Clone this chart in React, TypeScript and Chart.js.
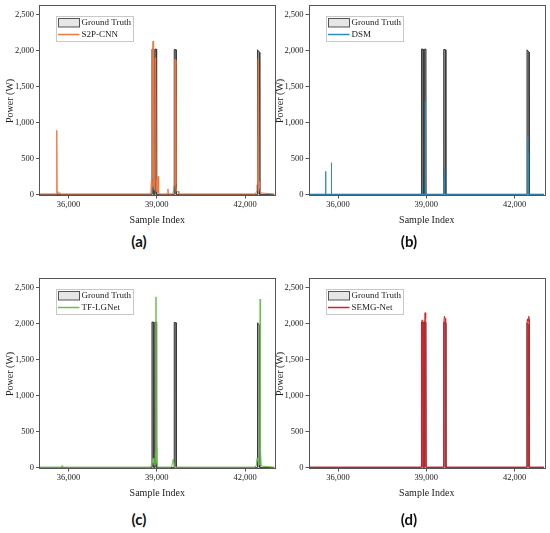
import React, { useEffect, useRef } from 'react';
import Chart from 'chart.js/auto';

const sampleTicks = [36000, 39000, 42000];
const powerTicks = [0, 500, 1000, 1500, 2000, 2500];
const sampleRange = [35030, 43000];
const powerRange = [-15, 2615];

// ground truth, shared by all four panels
const gtIndex = [35030, 38830, 38836, 38894, 38900, 38936, 38942, 38988, 38994, 39586, 39592, 39658, 39664, 42416, 42422, 42494, 42500, 43000];
const gtPower = [0, 0, 2020, 2020, 0, 0, 2020, 2020, 0, 0, 2015, 2010, 0, 0, 2010, 1975, 0, 0];

const s2pIndex = [35030, 35585, 35596, 35604, 35614, 35640, 35690, 35705, 35720, 38770, 38800, 38815, 38830, 38845, 38858, 38872, 38884, 38898, 38910, 38925, 38945, 38962, 38980, 39000, 39030, 39044, 39056, 39070, 39100, 39360, 39378, 39395, 39540, 39570, 39590, 39612, 39630, 39648, 39668, 39700, 39730, 39750, 42360, 42385, 42405, 42425, 42442, 42458, 42475, 42495, 42520, 42545, 43000];
const s2pPower = [6, 6, 60, 890, 40, 8, 8, 25, 6, 6, 50, 180, 100, 240, 1950, 2130, 300, 120, 60, 90, 1890, 1900, 200, 40, 30, 250, 40, 15, 6, 6, 75, 6, 6, 50, 130, 1880, 1870, 140, 60, 30, 45, 6, 6, 40, 120, 160, 1890, 1900, 180, 90, 40, 20, 6];

const dsmIndex = [35030, 35570, 35578, 35586, 35766, 35774, 35782, 38855, 38865, 38875, 38958, 38966, 38974, 39598, 39606, 39614, 39622, 39630, 42432, 42440, 42448, 42456, 42464, 42472, 42480, 43000];
const dsmPower = [2, 2, 320, 2, 2, 440, 2, 2, 120, 2, 2, 1300, 2, 2, 200, 30, 370, 2, 2, 450, 180, 800, 250, 580, 2, 2];

const tfIndex = [35030, 35745, 35762, 35778, 35800, 38790, 38825, 38845, 38862, 38878, 38895, 38915, 38935, 38958, 38972, 38986, 39000, 39030, 39470, 39510, 39535, 39552, 39570, 39600, 39640, 42340, 42372, 42392, 42410, 42430, 42455, 42480, 42500, 42512, 42526, 42550, 43000];
const tfPower = [3, 3, 15, 25, 3, 3, 40, 110, 70, 130, 60, 30, 50, 220, 2370, 280, 60, 4, 3, 20, 70, 110, 80, 20, 3, 3, 30, 90, 130, 100, 60, 40, 280, 2340, 250, 20, 3];

const semgIndex = [35030, 38834, 38840, 38858, 38876, 38890, 38897, 38940, 38946, 38958, 38972, 38985, 38992, 39588, 39594, 39615, 39638, 39656, 39662, 42416, 42422, 42438, 42452, 42468, 42482, 42494, 42500, 43000];
const semgPower = [4, 4, 2000, 2050, 2040, 2010, 4, 4, 2060, 2150, 2100, 2080, 4, 4, 2000, 2100, 2070, 2030, 4, 4, 2010, 2060, 2030, 2080, 2100, 2060, 4, 4];

const SERIF = '"Liberation Serif", "Times New Roman", serif';
const INK = '#222';
const AXIS = '#555';
const CANVAS_H = 232;

const toPoints = (xs: number[], ys: number[]) => xs.map((x, i) => ({ x, y: ys[i] }));

const framePlugin = {
  id: 'frame',
  afterDatasetsDraw(chart: any) {
    const { ctx, chartArea: a } = chart;
    ctx.save();
    ctx.strokeStyle = AXIS;
    ctx.lineWidth = 1;
    ctx.strokeRect(Math.round(a.left) - 0.5, Math.round(a.top) - 0.5, Math.round(a.right - a.left) + 1, Math.round(a.bottom - a.top) + 1);
    ctx.restore();
  },
};

// boxed legend in the top-left corner of the plot
const boxLegendPlugin = {
  id: 'boxLegend',
  afterDraw(chart: any) {
    const { ctx, chartArea: a } = chart;
    const [pred, gt] = chart.data.datasets;
    const x = Math.round(a.left + 16);
    const y = Math.round(a.top + 10);
    ctx.save();
    ctx.fillStyle = '#fff';
    ctx.fillRect(x, y, 77, 25);
    ctx.strokeStyle = '#c8c8c8';
    ctx.lineWidth = 1;
    ctx.strokeRect(x + 0.5, y + 0.5, 77, 25);
    ctx.fillStyle = '#e6e6e6';
    ctx.fillRect(x + 2.5, y + 2.5, 21, 8.5);
    ctx.strokeStyle = AXIS;
    ctx.strokeRect(x + 2.5, y + 2.5, 21, 8.5);
    ctx.beginPath();
    ctx.moveTo(x + 2, y + 18.5);
    ctx.lineTo(x + 23.5, y + 18.5);
    ctx.strokeStyle = pred.borderColor;
    ctx.lineWidth = 1.5;
    ctx.stroke();
    ctx.font = `9px ${SERIF}`;
    ctx.fillStyle = INK;
    ctx.textBaseline = 'middle';
    ctx.fillText(gt.label, x + 25.5, y + 7);
    ctx.fillText(pred.label, x + 25.5, y + 18.5);
    ctx.restore();
  },
};

interface PanelProps {
  caption: string;
  label: string;
  color: string;
  index: number[];
  power: number[];
  left: number;
  top: number;
  width: number;
  areaLeft: number;
  areaTop: number;
  areaRight: number;
  areaBottom: number;
  titlePad: number;
  captionX: number;
  captionY: number;
}

const Panel: React.FC<PanelProps> = (p) => {
  const canvasRef = useRef<HTMLCanvasElement | null>(null);

  useEffect(() => {
    if (!canvasRef.current) return;
    const chart = new Chart(canvasRef.current, {
      type: 'line',
      data: {
        datasets: [
          {
            label: p.label,
            data: toPoints(p.index, p.power),
            borderColor: p.color,
            borderWidth: 1,
            pointRadius: 0,
            fill: false,
            order: 0,
          },
          {
            label: 'Ground Truth',
            data: toPoints(gtIndex, gtPower),
            borderColor: '#3a3a3a',
            backgroundColor: 'rgba(115,115,115,0.75)',
            borderWidth: 1,
            pointRadius: 0,
            fill: 'origin',
            order: 1,
          },
        ],
      },
      options: {
        animation: false,
        responsive: false,
        events: [],
        layout: {
          padding: { top: p.areaTop - p.top, right: p.left + p.width - p.areaRight, left: 0, bottom: 0 },
        },
        plugins: { legend: { display: false }, tooltip: { enabled: false } },
        elements: { line: { tension: 0 } },
        scales: {
          x: {
            type: 'linear',
            min: sampleRange[0],
            max: sampleRange[1],
            afterBuildTicks: (s: any) => {
              s.ticks = sampleTicks.map((v) => ({ value: v }));
            },
            afterFit: (s: any) => {
              s.height = p.top + CANVAS_H - p.areaBottom;
            },
            border: { display: false },
            grid: { drawOnChartArea: false, drawTicks: true, tickLength: 3, color: AXIS },
            ticks: {
              font: { family: SERIF, size: 8.5, lineHeight: 1 },
              color: INK,
              padding: 2.5,
              maxRotation: 0,
              autoSkip: false,
              callback: (v: any) => Number(v).toLocaleString('en-US'),
            },
            title: {
              display: true,
              text: 'Sample Index',
              font: { family: SERIF, size: 10, lineHeight: 1.2 },
              color: INK,
              padding: { top: 0, bottom: 6 },
            },
          },
          y: {
            type: 'linear',
            min: powerRange[0],
            max: powerRange[1],
            afterBuildTicks: (s: any) => {
              s.ticks = powerTicks.map((v) => ({ value: v }));
            },
            afterFit: (s: any) => {
              s.width = p.areaLeft - p.left;
            },
            border: { display: false },
            grid: { drawOnChartArea: false, drawTicks: true, tickLength: 4, color: AXIS },
            ticks: {
              font: { family: SERIF, size: 8.5, lineHeight: 1 },
              color: INK,
              padding: 2,
              autoSkip: false,
              callback: (v: any) => Number(v).toLocaleString('en-US'),
            },
            title: {
              display: true,
              text: 'Power (W)',
              font: { family: SERIF, size: 10, lineHeight: 1.2 },
              color: INK,
              padding: { top: p.titlePad, bottom: 0 },
            },
          },
        },
      },
      plugins: [framePlugin, boxLegendPlugin],
    } as any);
    return () => chart.destroy();
  }, []);

  return (
    <>
      <canvas
        ref={canvasRef}
        width={p.width}
        height={CANVAS_H}
        style={{ position: 'absolute', left: p.left, top: p.top, width: p.width, height: CANVAS_H }}
      />
      <div
        style={{
          position: 'absolute',
          left: p.captionX,
          top: p.captionY,
          transform: 'translate(-50%, -50%)',
          font: 'bold 15px Lato, "Liberation Sans", sans-serif',
          color: '#111',
          whiteSpace: 'nowrap',
        }}
      >
        {p.caption}
      </div>
    </>
  );
};

const leftCol = { left: 0, width: 277, areaLeft: 40, areaRight: 274.5, titlePad: 4, captionX: 139 };
const rightCol = { left: 272, width: 275, areaLeft: 309.5, areaRight: 544, titlePad: 2, captionX: 409 };
const topRow = { top: 0, areaTop: 5, areaBottom: 195.5, captionY: 241 };
const bottomRow = { top: 273, areaTop: 278.3, areaBottom: 468.5, captionY: 519 };

export default function App() {
  return (
    <div style={{ position: 'absolute', left: 0, top: 0, width: 550, height: 533, background: '#fff', overflow: 'hidden' }}>
      <Panel caption="(a)" label="S2P-CNN" color="#f0783c" index={s2pIndex} power={s2pPower} {...leftCol} {...topRow} />
      <Panel caption="(b)" label="DSM" color="#2a8dbf" index={dsmIndex} power={dsmPower} {...rightCol} {...topRow} />
      <Panel caption="(c)" label="TF-LGNet" color="#6cbf4e" index={tfIndex} power={tfPower} {...leftCol} {...bottomRow} />
      <Panel caption="(d)" label="SEMG-Net" color="#d81e28" index={semgIndex} power={semgPower} {...rightCol} {...bottomRow} />
    </div>
  );
}
